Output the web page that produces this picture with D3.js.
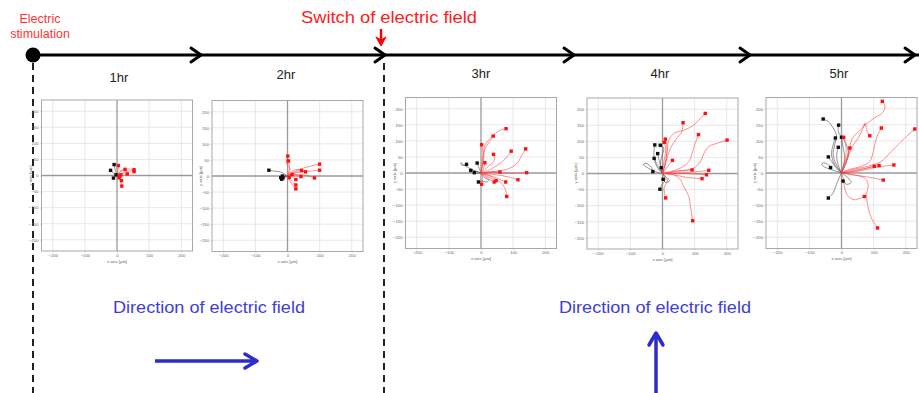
<!DOCTYPE html>
<html>
<head>
<meta charset="utf-8">
<script src="https://cdn.jsdelivr.net/npm/d3@7"></script>
<style>
  html, body { margin: 0; padding: 0; background: #fff; }
  svg { display: block; font-family: "Liberation Sans", Arial, sans-serif; }
</style>
</head>
<body>
<svg id="chart" width="919" height="393"></svg>
<script>
// ---- Cell tracks (x, y in µm), one array per track, origin first, endpoint last ----
const hourLabels = ["1hr", "2hr", "3hr", "4hr", "5hr"];
const xTicks = [-200, -100, 0, 100, 200];
const yTicks = [-200, -150, -100, -50, 0, 50, 100, 150, 200];

const red1 = [
  [[0,0],[10,12],[25,20],[53,18]],
  [[0,0],[20,10],[40,14],[53,12]],
  [[0,0],[12,15],[25,19]],
  [[0,0],[15,5],[32,5]],
  [[0,0],[3,15],[4,31]],
  [[0,0],[10,-8],[14,-16]],
  [[0,0],[10,-15],[15,-33]],
  [[0,0],[6,-7]],
  [[0,0],[9,-3]],
  [[0,0],[5,3],[12,2]]
];
const black1 = [
  [[0,0],[-5,15],[-9,34]],
  [[0,0],[-10,8],[-20,16]],
  [[0,0],[-6,-4],[-11,-8]],
  [[0,0],[-3,2]]
];

const red2 = [
  [[0,0],[8,20],[-3,40],[1,62]],
  [[0,0],[6,25],[3,47]],
  [[0,0],[30,18],[70,30],[100,37]],
  [[0,0],[35,12],[70,15],[100,18]],
  [[0,0],[40,5],[84,-6]],
  [[0,0],[25,20],[56,13]],
  [[0,0],[20,10],[44,17]],
  [[0,0],[15,-3],[26,-11]],
  [[0,0],[12,-15],[26,-28]],
  [[0,0],[10,-20],[26,-40]],
  [[0,0],[20,4],[42,-2]],
  [[0,0],[14,5]],
  [[0,0],[5,-5]]
];
const black2 = [
  [[0,0],[-20,12],[-40,15],[-58,18]],
  [[0,0],[-10,-3],[-21,-5]],
  [[0,0],[-8,2],[-16,0]],
  [[0,0],[-10,-6],[-18,-10]],
  [[0,0],[-12,-2],[-14,-6]]
];

const red3 = [
  [[0,0],[4,24],[7,55],[12,86],[28,107],[44,123],[59,133],[78,138]],
  [[0,0],[8,40],[12,75],[25,95],[38,115]],
  [[0,0],[3,30],[6,60],[2,88]],
  [[0,0],[33,13],[64,34],[85,55],[94,68]],
  [[0,0],[44,5],[85,13],[111,29],[127,55],[139,75]],
  [[0,0],[22,20],[42,40],[39,58]],
  [[0,0],[8,15],[12,32]],
  [[0,0],[30,4],[59,3]],
  [[0,0],[44,2],[95,-1],[142,1]],
  [[0,0],[50,-6],[85,-12],[115,-21]],
  [[0,0],[40,-12],[77,-28]],
  [[0,0],[25,-14],[47,-24]],
  [[0,0],[20,-16],[41,-28]],
  [[0,0],[33,-12],[64,-33],[75,-49],[80,-73]],
  [[0,0],[5,-15],[2,-35]]
];
const black3 = [
  [[0,0],[-25,10],[-55,25],[-62,32],[-60,24],[-45,27]],
  [[0,0],[-6,15],[-12,31]],
  [[0,0],[-15,5],[-32,8]],
  [[0,0],[-10,-1],[-21,1]],
  [[0,0],[12,-15],[25,-22],[18,-28],[5,-25],[-8,-28]]
];

const red4 = [
  [[0,0],[9,32],[15,73],[20,104],[36,125],[67,135],[98,151],[118,172],[133,187]],
  [[0,0],[12,40],[25,80],[45,110],[60,130],[64,158]],
  [[0,0],[25,6],[56,17],[82,37],[92,63],[102,94],[112,121]],
  [[0,0],[46,6],[98,17],[118,37],[129,63],[144,84],[170,94],[201,104]],
  [[0,0],[8,30],[14,75],[9,107]],
  [[0,0],[5,40],[10,70],[6,97]],
  [[0,0],[15,20],[31,41]],
  [[0,0],[45,8],[92,11]],
  [[0,0],[50,2],[100,5],[144,10]],
  [[0,0],[70,0],[137,-4]],
  [[0,0],[35,-4],[75,-12],[123,-16]],
  [[0,0],[15,-20],[5,-45],[10,-76]],
  [[0,0],[35,-4],[56,-20],[66,-41],[82,-72],[87,-103],[94,-147]]
];
const black4 = [
  [[0,0],[-11,11],[-22,32],[-27,63],[-24,89]],
  [[0,0],[-6,32],[-1,58],[4,79],[-7,88]],
  [[0,0],[-8,30],[-15,62]],
  [[0,0],[-15,25],[-26,47]],
  [[0,0],[-4,18]],
  [[0,0],[-20,5],[-50,20],[-60,28],[-52,32],[-35,20],[-30,6]],
  [[0,0],[8,-20],[-2,-35],[-8,-49]],
  [[0,0],[12,-12],[22,-22],[10,-28],[2,-18]]
];

const red5 = [
  [[0,0],[15,40],[25,80],[35,110],[65,140],[75,152],[68,145],[100,170],[130,190],[135,210],[127,223]],
  [[0,0],[31,10],[83,21],[124,36],[155,67],[197,109],[228,137]],
  [[0,0],[21,10],[62,21],[88,36],[99,67],[109,109],[124,140]],
  [[0,0],[16,36],[31,78],[52,109],[67,140],[73,156],[80,130],[88,116]],
  [[0,0],[5,20],[20,50],[26,78]],
  [[0,0],[12,40],[14,80],[7,111]],
  [[0,0],[50,8],[102,21]],
  [[0,0],[60,12],[117,23]],
  [[0,0],[50,5],[110,18],[163,25]],
  [[0,0],[52,-8],[90,-14],[130,-22]],
  [[0,0],[5,-16],[10,-47],[21,-73],[41,-83],[71,-73]],
  [[0,0],[31,-5],[73,-16],[83,-36],[78,-67],[83,-108],[93,-140],[112,-171]]
];
const black5 = [
  [[0,0],[-16,26],[-26,57],[-21,88],[-16,119],[-26,140],[-41,160],[-57,168]],
  [[0,0],[10,47],[5,78],[0,109],[-10,130],[-9,149]],
  [[0,0],[16,36],[21,67],[10,99],[0,111]],
  [[0,0],[-21,26],[-31,57],[-26,88],[-19,109]],
  [[0,0],[-10,25],[-15,55],[-10,80]],
  [[0,0],[-20,20],[-30,35],[-41,50]],
  [[0,0],[-30,10],[-55,20],[-62,28],[-55,32],[-40,25],[-34,17]],
  [[0,0],[-5,-10],[-16,-36],[-26,-62],[-41,-78]],
  [[0,0],[20,-15],[30,-30],[15,-35],[5,-25]]
];

// ---- Layout ----
const svg = d3.select("#chart");
const W = 919, H = 393;
const timelineY = 55;
const panelSize = 151;
const panels = [
  { left: 41.5, top: 100,  label: hourLabels[0], labelX: 119, labelY: 77, red: red1, black: black1 },
  { left: 212,  top: 100.5, label: hourLabels[1], labelX: 286, labelY: 74, red: red2, black: black2 },
  { left: 405.5, top: 97.5, label: hourLabels[2], labelX: 481, labelY: 73, red: red3, black: black3 },
  { left: 587,  top: 98,   label: hourLabels[3], labelX: 660, labelY: 73, red: red4, black: black4 },
  { left: 766,  top: 97.5, label: hourLabels[4], labelX: 839, labelY: 73, red: red5, black: black5 }
];
const chevronXs = [201, 385, 574, 750, 915];

// ---- Timeline ----
svg.append("line")
  .attr("x1", 33).attr("x2", W).attr("y1", timelineY).attr("y2", timelineY)
  .attr("stroke", "#000").attr("stroke-width", 3);
svg.append("g").selectAll("path").data(chevronXs).join("path")
  .attr("d", x => `M${x - 10},${timelineY - 7} L${x},${timelineY} L${x - 10},${timelineY + 7}`)
  .attr("fill", "none").attr("stroke", "#000").attr("stroke-width", 3)
  .attr("stroke-linecap", "round").attr("stroke-linejoin", "round");
svg.append("circle").attr("cx", 33).attr("cy", timelineY).attr("r", 7.5).attr("fill", "#000");

// Dashed markers for stimulation start and field switch
svg.append("g").selectAll("line").data([33, 384]).join("line")
  .attr("x1", d => d).attr("x2", d => d).attr("y1", 63).attr("y2", H)
  .attr("stroke", "#222").attr("stroke-width", 2).attr("stroke-dasharray", "7,5");

// Red annotations
svg.append("text").attr("x", 40).attr("y", 23).attr("text-anchor", "middle")
  .attr("fill", "#ff3333").attr("font-size", 12.5).text("Electric");
svg.append("text").attr("x", 40).attr("y", 38).attr("text-anchor", "middle")
  .attr("fill", "#ff3333").attr("font-size", 12.5).text("stimulation");
svg.append("text").attr("x", 389).attr("y", 23).attr("text-anchor", "middle")
  .attr("fill", "#ff1a1a").attr("font-size", 17)
  .attr("textLength", 176).attr("lengthAdjust", "spacingAndGlyphs")
  .text("Switch of electric field");
svg.append("line").attr("x1", 381).attr("x2", 381).attr("y1", 29).attr("y2", 40)
  .attr("stroke", "#ff0000").attr("stroke-width", 2.5);
svg.append("path").attr("d", "M376,37 L381,46 L386,37 L381,40 Z").attr("fill", "#ff0000")
  .attr("stroke", "#ff0000").attr("stroke-width", 1).attr("stroke-linejoin", "round");

// Hour labels
svg.append("g").selectAll("text").data(panels).join("text")
  .attr("x", d => d.labelX).attr("y", d => d.labelY + 4.5)
  .attr("text-anchor", "middle").attr("font-size", 13).attr("fill", "#222")
  .text(d => d.label);

// ---- Track plots ----
const line = d3.line().curve(d3.curveCatmullRom.alpha(0.5));

panels.forEach(p => {
  const g = svg.append("g").attr("transform", `translate(${p.left},${p.top})`);
  const x = d3.scaleLinear().domain([-235, 235]).range([0, panelSize]);
  const y = d3.scaleLinear().domain([-235, 235]).range([panelSize, 0]);

  g.append("rect").attr("width", panelSize).attr("height", panelSize).attr("fill", "#fff");

  // grid
  g.append("g").selectAll("line").data(xTicks.filter(t => t !== 0)).join("line")
    .attr("x1", d => x(d)).attr("x2", d => x(d)).attr("y1", 0).attr("y2", panelSize)
    .attr("stroke", "#e2e2e2").attr("stroke-width", 0.8);
  g.append("g").selectAll("line").data(yTicks.filter(t => t !== 0)).join("line")
    .attr("y1", d => y(d)).attr("y2", d => y(d)).attr("x1", 0).attr("x2", panelSize)
    .attr("stroke", "#e2e2e2").attr("stroke-width", 0.8);
  // zero axes
  g.append("line").attr("x1", x(0)).attr("x2", x(0)).attr("y1", 0).attr("y2", panelSize)
    .attr("stroke", "#9a9a9a").attr("stroke-width", 1.3);
  g.append("line").attr("y1", y(0)).attr("y2", y(0)).attr("x1", 0).attr("x2", panelSize)
    .attr("stroke", "#9a9a9a").attr("stroke-width", 1.3);

  // axes with tick labels
  const ax = g.append("g").attr("transform", `translate(0,${panelSize})`)
    .call(d3.axisBottom(x).tickValues(xTicks).tickSize(1.5).tickPadding(1.5));
  const ay = g.append("g")
    .call(d3.axisLeft(y).tickValues(yTicks).tickSize(1.5).tickPadding(1.5));
  [ax, ay].forEach(a => {
    a.select(".domain").remove();
    a.selectAll(".tick line").attr("stroke", "#bbb").attr("stroke-width", 0.6);
    a.selectAll(".tick text").attr("fill", "#666").attr("font-size", 4.2)
      .attr("font-family", "Liberation Sans, Arial, sans-serif");
  });
  g.append("text").attr("x", x(0)).attr("y", panelSize + 11.5)
    .attr("text-anchor", "middle").attr("font-size", 4.2).attr("fill", "#666")
    .text("x axis [µm]");
  g.append("text").attr("transform", `translate(-10,${y(0)}) rotate(-90)`)
    .attr("text-anchor", "middle").attr("font-size", 4.2).attr("fill", "#666")
    .text("y axis [µm]");

  // frame
  g.append("rect").attr("width", panelSize).attr("height", panelSize)
    .attr("fill", "none").attr("stroke", "#a8a8a8").attr("stroke-width", 1);

  const toPx = pts => pts.map(d => [x(d[0]), y(d[1])]);

  // black (non-responding) tracks
  g.append("g").selectAll("path").data(p.black).join("path")
    .attr("d", t => line(toPx(t)))
    .attr("fill", "none").attr("stroke", "#555").attr("stroke-opacity", 0.8).attr("stroke-width", 0.8);
  // red (responding) tracks
  g.append("g").selectAll("path").data(p.red).join("path")
    .attr("d", t => line(toPx(t)))
    .attr("fill", "none").attr("stroke", "#ff4040").attr("stroke-opacity", 0.65).attr("stroke-width", 0.9);

  const s = 3.4;
  g.append("g").selectAll("rect").data(p.black).join("rect")
    .attr("x", t => x(t[t.length - 1][0]) - s / 2).attr("y", t => y(t[t.length - 1][1]) - s / 2)
    .attr("width", s).attr("height", s).attr("fill", "#111");
  g.append("g").selectAll("rect").data(p.red).join("rect")
    .attr("x", t => x(t[t.length - 1][0]) - s / 2).attr("y", t => y(t[t.length - 1][1]) - s / 2)
    .attr("width", s).attr("height", s).attr("fill", "#ff1010");
});

// ---- Field direction annotations ----
const blueText = "#3e3ed6", blueArrow = "#2c2cc8";
svg.append("text").attr("x", 209).attr("y", 313).attr("text-anchor", "middle")
  .attr("font-size", 16.5).attr("fill", blueText)
  .attr("textLength", 192).attr("lengthAdjust", "spacingAndGlyphs")
  .text("Direction of electric field");
svg.append("text").attr("x", 655).attr("y", 313).attr("text-anchor", "middle")
  .attr("font-size", 16.5).attr("fill", blueText)
  .attr("textLength", 192).attr("lengthAdjust", "spacingAndGlyphs")
  .text("Direction of electric field");

// horizontal field arrow (1–2 hr)
svg.append("line").attr("x1", 155).attr("x2", 256).attr("y1", 361).attr("y2", 361)
  .attr("stroke", blueArrow).attr("stroke-width", 3.5);
svg.append("path").attr("d", "M245,354 L257,361 L245,368")
  .attr("fill", "none").attr("stroke", blueArrow).attr("stroke-width", 3.5)
  .attr("stroke-linecap", "round").attr("stroke-linejoin", "round");

// vertical field arrow (3–5 hr)
svg.append("line").attr("x1", 656).attr("x2", 656).attr("y1", 334).attr("y2", H)
  .attr("stroke", blueArrow).attr("stroke-width", 3.5);
svg.append("path").attr("d", "M649,345 L656,333 L663,345")
  .attr("fill", "none").attr("stroke", blueArrow).attr("stroke-width", 3.5)
  .attr("stroke-linecap", "round").attr("stroke-linejoin", "round");
</script>
</body>
</html>
